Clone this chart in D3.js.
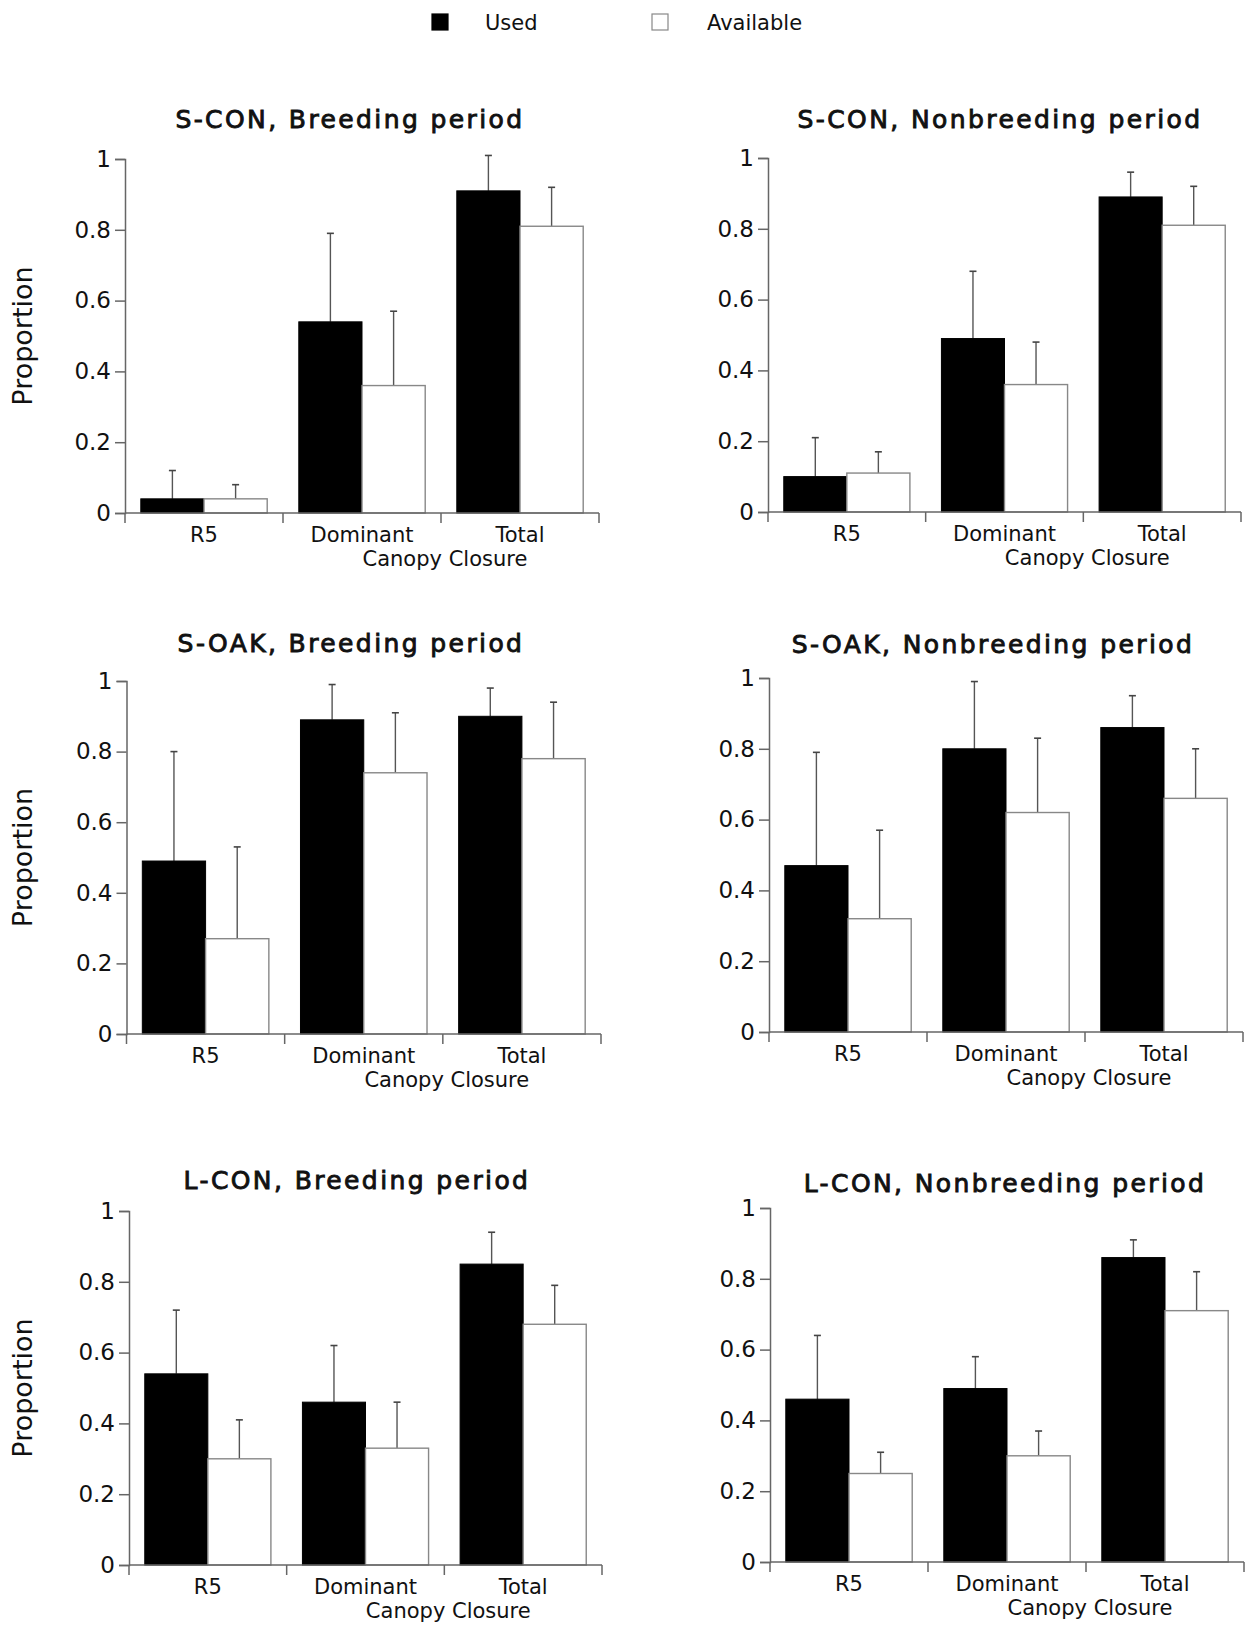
<!DOCTYPE html>
<html>
<head>
<meta charset="utf-8">
<script src="https://cdn.jsdelivr.net/npm/d3@7"></script>
<style>
  html, body { margin: 0; padding: 0; background: #fff; }
  svg { display: block; }
  text { font-family: "DejaVu Sans", sans-serif; fill: #111; }
</style>
</head>
<body>
<svg id="chart" width="1245" height="1626"></svg>
<script>
// ---------------- data ----------------
const categories = ["R5", "Dominant", "Total"];
const seriesNames = ["Used", "Available"];
const panelTitles = [
  "S-CON, Breeding period", "S-CON, Nonbreeding period",
  "S-OAK, Breeding period", "S-OAK, Nonbreeding period",
  "L-CON, Breeding period", "L-CON, Nonbreeding period"
];
const usedValues = [
  [0.04, 0.54, 0.91],
  [0.10, 0.49, 0.89],
  [0.49, 0.89, 0.90],
  [0.47, 0.80, 0.86],
  [0.54, 0.46, 0.85],
  [0.46, 0.49, 0.86]
];
const usedUpper = [
  [0.12, 0.79, 1.01],
  [0.21, 0.68, 0.96],
  [0.80, 0.99, 0.98],
  [0.79, 0.99, 0.95],
  [0.72, 0.62, 0.94],
  [0.64, 0.58, 0.91]
];
const availableValues = [
  [0.04, 0.36, 0.81],
  [0.11, 0.36, 0.81],
  [0.27, 0.74, 0.78],
  [0.32, 0.62, 0.66],
  [0.30, 0.33, 0.68],
  [0.25, 0.30, 0.71]
];
const availableUpper = [
  [0.08, 0.57, 0.92],
  [0.17, 0.48, 0.92],
  [0.53, 0.91, 0.94],
  [0.57, 0.83, 0.80],
  [0.41, 0.46, 0.79],
  [0.31, 0.37, 0.82]
];
const yTickValues = [0, 0.2, 0.4, 0.6, 0.8, 1];
const yTickLabels = ["0", "0.2", "0.4", "0.6", "0.8", "1"];
const yAxisTitle = "Proportion";
const xAxisTitle = "Canopy Closure";

// ---------------- layout ----------------
const layout = [
  { x0: 125, x1: 599, yTop: 159, yBot: 513, tx: 350, ty: 128, ylab: true },
  { x0: 768, x1: 1241, yTop: 158, yBot: 512, tx: 1000, ty: 128, ylab: false },
  { x0: 126.5, x1: 601, yTop: 681, yBot: 1034, tx: 351, ty: 652, ylab: true },
  { x0: 769, x1: 1243, yTop: 678, yBot: 1032, tx: 993, ty: 653, ylab: false },
  { x0: 129, x1: 602, yTop: 1211, yBot: 1565, tx: 357, ty: 1189, ylab: true },
  { x0: 770, x1: 1244, yTop: 1208, yBot: 1562, tx: 1005, ty: 1192, ylab: false }
];
const axisColor = "#666";
const fills = { Used: "#000", Available: "#fff" };

const svg = d3.select("#chart");

// ---------------- legend ----------------
const legend = svg.append("g");
const legendItems = [
  { name: seriesNames[0], sx: 432, tx: 485 },
  { name: seriesNames[1], sx: 652, tx: 707 }
];
legendItems.forEach(it => {
  legend.append("rect")
    .attr("x", it.sx).attr("y", 14).attr("width", 16).attr("height", 16)
    .attr("fill", fills[it.name])
    .attr("stroke", it.name === "Used" ? "#000" : "#888")
    .attr("stroke-width", 1.2);
  legend.append("text")
    .attr("x", it.tx).attr("y", 30)
    .attr("font-size", 21)
    .text(it.name);
});

// ---------------- panels ----------------
layout.forEach((L, i) => {
  const g = svg.append("g");
  const x = d3.scaleBand().domain(categories).range([L.x0, L.x1])
    .paddingInner(0.2).paddingOuter(0.1);
  const xs = d3.scaleBand().domain(seriesNames).range([0, x.bandwidth()]).padding(0);
  const y = d3.scaleLinear().domain([0, 1]).range([L.yBot, L.yTop]);

  const rows = categories.map((c, j) => ({
    cat: c,
    vals: [
      { s: "Used", v: usedValues[i][j], up: usedUpper[i][j] },
      { s: "Available", v: availableValues[i][j], up: availableUpper[i][j] }
    ]
  }));

  // bars
  rows.forEach(r => {
    r.vals.forEach(d => {
      const bx = x(r.cat) + xs(d.s);
      const cx = bx + xs.bandwidth() / 2;
      // error bar
      g.append("line")
        .attr("x1", cx).attr("x2", cx)
        .attr("y1", y(d.v)).attr("y2", y(d.up))
        .attr("stroke", "#555").attr("stroke-width", 1.4);
      g.append("line")
        .attr("x1", cx - 3.5).attr("x2", cx + 3.5)
        .attr("y1", y(d.up)).attr("y2", y(d.up))
        .attr("stroke", "#444").attr("stroke-width", 1.6);
      g.append("rect")
        .attr("x", bx).attr("y", y(d.v))
        .attr("width", xs.bandwidth()).attr("height", y(0) - y(d.v))
        .attr("fill", fills[d.s])
        .attr("stroke", d.s === "Used" ? "#000" : "#888")
        .attr("stroke-width", d.s === "Used" ? 1 : 1.4);
    });
  });

  // y axis
  const yAxis = d3.axisLeft(y).tickValues(yTickValues)
    .tickFormat((d, k) => yTickLabels[k]).tickSize(10).tickPadding(4);
  const ya = g.append("g").attr("transform", `translate(${L.x0},0)`).call(yAxis);
  ya.select(".domain").attr("stroke", axisColor).attr("stroke-width", 1.5);
  ya.selectAll(".tick line").attr("stroke", axisColor).attr("stroke-width", 1.5);
  ya.selectAll(".tick text").attr("font-family", "DejaVu Sans").attr("font-size", 23).attr("fill", "#111");

  // x axis: baseline with dividers at band boundaries
  const boundaries = d3.range(categories.length + 1).map(k => L.x0 + k * x.step());
  g.append("line")
    .attr("x1", L.x0).attr("x2", L.x1)
    .attr("y1", y(0)).attr("y2", y(0))
    .attr("stroke", axisColor).attr("stroke-width", 1.5);
  boundaries.forEach(bx => {
    g.append("line")
      .attr("x1", bx).attr("x2", bx)
      .attr("y1", y(0)).attr("y2", y(0) + 10)
      .attr("stroke", axisColor).attr("stroke-width", 1.5);
  });
  categories.forEach(c => {
    g.append("text")
      .attr("x", x(c) + x.bandwidth() / 2)
      .attr("y", y(0) + 29)
      .attr("text-anchor", "middle")
      .attr("font-size", 21)
      .text(c);
  });
  g.append("text")
    .attr("x", L.x0 + 0.675 * (L.x1 - L.x0))
    .attr("y", y(0) + 53)
    .attr("text-anchor", "middle")
    .attr("font-size", 21)
    .text(xAxisTitle);

  // title
  g.append("text")
    .attr("x", L.tx).attr("y", L.ty)
    .attr("text-anchor", "middle")
    .attr("font-size", 25)
    .attr("letter-spacing", 2.4)
    .attr("stroke", "#111")
    .attr("stroke-width", 0.9)
    .text(panelTitles[i]);

  // y label
  if (L.ylab) {
    g.append("text")
      .attr("transform", `translate(32,${(L.yTop + L.yBot) / 2}) rotate(-90)`)
      .attr("text-anchor", "middle")
      .attr("font-size", 27)
      .text(yAxisTitle);
  }
});
</script>
</body>
</html>
